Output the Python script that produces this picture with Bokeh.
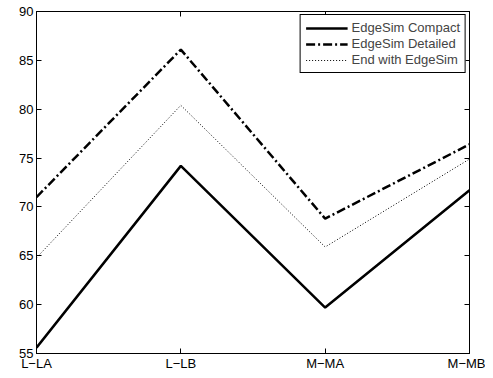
from bokeh.plotting import figure
from bokeh.models import FixedTicker, LinearAxis, Range1d, Legend, LegendItem, CustomJSTickFormatter
from bokeh.embed import file_html
from bokeh.resources import INLINE

categories = ["L\u2212LA", "L\u2212LB", "M\u2212MA", "M\u2212MB"]
compact = [55.6, 74.2, 59.7, 71.7]
detailed = [71.0, 86.1, 68.8, 76.4]
end_with = [64.8, 80.4, 65.9, 74.9]
y_ticks = [55, 60, 65, 70, 75, 80, 85, 90]

x = list(range(len(categories)))
FONT = "Liberation Sans"
FS = "13px"

p = figure(width=485, height=378, x_range=Range1d(0, len(categories) - 1),
           y_range=Range1d(55, 90), output_backend="svg", toolbar_location=None,
           min_border_left=36, min_border_right=16, min_border_top=11, min_border_bottom=25)
p.xgrid.visible = False
p.ygrid.visible = False
p.outline_line_color = "black"
p.background_fill_color = "white"

def style_axis(ax, labels=True):
    ax.axis_line_color = "black"
    ax.major_tick_line_color = "black"
    ax.major_tick_in = 5
    ax.major_tick_out = 0
    ax.minor_tick_line_color = None
    ax.major_label_text_font = FONT
    ax.major_label_text_color = "black"
    ax.major_label_text_font_size = FS
    if labels:
        ax.major_label_standoff = 3
    else:
        ax.formatter = CustomJSTickFormatter(code="return ''")
        ax.major_label_standoff = 0

p.xaxis.ticker = FixedTicker(ticks=x)
p.xaxis.major_label_overrides = {i: c for i, c in enumerate(categories)}
p.yaxis.ticker = FixedTicker(ticks=y_ticks)
style_axis(p.xaxis[0])
style_axis(p.yaxis[0])
p.xaxis.major_label_standoff = 2

top = LinearAxis(ticker=FixedTicker(ticks=x))
style_axis(top, labels=False)
p.add_layout(top, "above")
right = LinearAxis(ticker=FixedTicker(ticks=y_ticks))
style_axis(right, labels=False)
p.add_layout(right, "right")

r1 = p.line(x, compact, line_color="black", line_width=2.5)
r2 = p.line(x, detailed, line_color="black", line_width=2.5, line_dash="9 3 2 3")
r3 = p.line(x, end_with, line_color="black", line_width=1, line_dash="1 2")

legend = Legend(items=[LegendItem(label="EdgeSim Compact", renderers=[r1]),
                       LegendItem(label="EdgeSim Detailed", renderers=[r2]),
                       LegendItem(label="End with EdgeSim", renderers=[r3])],
                location="top_right")
legend.border_line_color = "black"
legend.border_line_width = 1
legend.border_line_alpha = 1
legend.background_fill_alpha = 1
legend.margin = 3
legend.padding = 5
legend.spacing = 1
legend.label_height = 14
legend.glyph_height = 14
legend.glyph_width = 42
legend.label_standoff = 4
legend.label_text_font = FONT
legend.label_text_font_size = FS
p.add_layout(legend)

open("out.html", "w").write(file_html(p, INLINE))
